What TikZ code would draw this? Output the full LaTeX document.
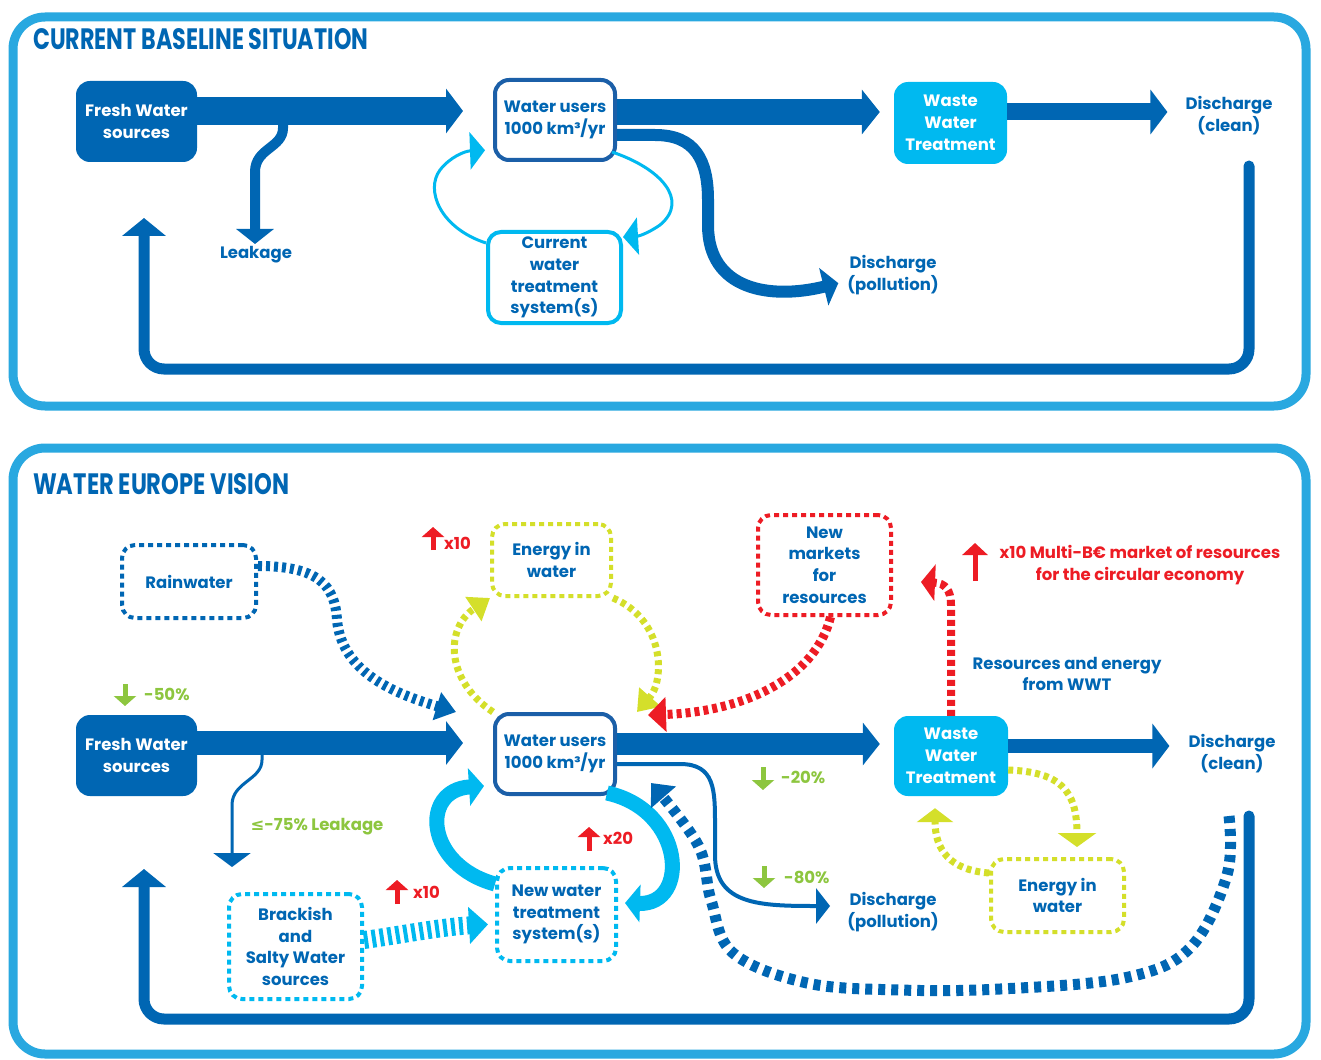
\documentclass[tikz,border=0pt]{standalone}
\usepackage{fontspec}
\usepackage{graphicx}
\setmainfont{Poppins}
\newfontfamily\symfont{DejaVu Sans}
\usetikzlibrary{arrows.meta,calc}
\definecolor{dblue}{RGB}{0,102,179}
\definecolor{bblue}{RGB}{27,95,168}
\definecolor{framec}{RGB}{41,168,224}
\definecolor{cyanw}{RGB}{0,185,240}
\definecolor{ygreen}{RGB}{212,223,42}
\definecolor{wred}{RGB}{237,28,36}
\definecolor{wgreen}{RGB}{141,198,63}
\begin{document}
\begin{tikzpicture}[x=1pt,y=-1pt,
  txt/.style={text=dblue,font=\bfseries\fontsize{16.5}{21.8}\selectfont,align=center,inner sep=0pt},
  solidbox/.style={txt,text=white,rounded corners=14pt},
  userbox/.style={txt,draw=bblue,fill=white,line width=4pt,rounded corners=14pt,minimum width=120pt,minimum height=80pt},
  dotbox/.style={txt,draw=#1,fill=white,line width=4pt,dash pattern=on 5pt off 4pt,rounded corners=13pt},
  bigarrow/.style={dblue,line width=#1},
  icon/.style={line width=5pt,-{Triangle[length=10pt,width=22pt]}},
  small/.style={font=\bfseries\fontsize{16.5}{18}\selectfont,inner sep=0pt}
]
\fill[white] (0,0) rectangle (1321,1059);
\useasboundingbox (0,0) rectangle (1321,1059);
% panels
\draw[framec,line width=9pt,rounded corners=32pt] (13,17) rectangle (1306,406);
\draw[framec,line width=9pt,rounded corners=32pt] (13,448) rectangle (1306,1054);
\node[anchor=south west,inner sep=0pt,text=dblue] (t1) at (33,50) {\resizebox{335pt}{21pt}{\bfseries CURRENT BASELINE SITUATION}};
\node[anchor=south west,inner sep=0pt,text=dblue] (t2) at (33,495) {\resizebox{256pt}{21pt}{\bfseries WATER EUROPE VISION}};

% ================= TOP PANEL =================
\node[solidbox,fill=dblue,minimum width=121pt,minimum height=81pt] (fw1) at (136.5,121.5) {Fresh Water\\sources};
\node[userbox] (wu1) at (555,120) {Water users\\1000 km³/yr};
\node[solidbox,fill=cyanw,minimum width=113pt,minimum height=82pt] (wwt1) at (950.5,123) {Waste\\Water\\Treatment};
\node[txt,draw=cyanw,fill=white,line width=4pt,rounded corners=13pt,minimum width=133pt,minimum height=91pt] (cwt1) at (554.5,277.5) {Current\\water\\treatment\\system(s)};
\node[txt] (leak1) at (256,255) {Leakage};
\node[txt] (dc1) at (1229,116) {Discharge\\(clean)};
\node[txt] (dp1) at (893,275) {Discharge\\(pollution)};
\coordinate (br1) at (283,118);
\coordinate (rl1) at (1249,166);

\draw[bigarrow=28pt,-{Triangle[length=17pt,width=44pt]},shorten >=30pt] (fw1.east |- 0,111) -- (wu1.west |- 0,111);
\draw[bigarrow=26pt,-{Triangle[length=18pt,width=44pt]},shorten >=14pt] (wu1.east |- 0,112) -- (wwt1.west |- 0,112);
\draw[bigarrow=17pt,-{Triangle[length=17pt,width=44pt]},shorten >=18pt] (wwt1.east |- 0,112) -- (dc1.west |- 0,112);
\draw[dblue,line width=10pt,-{Triangle[length=15pt,width=37pt]},shorten >=2pt] (br1) -- (283,128) .. controls (283,148) and (255,148) .. (255,172) -- (255,246);
\draw[dblue,line width=11pt,rounded corners=20pt,line cap=round,-{Triangle[length=18pt,width=43pt]}] (rl1) -- (1249,369) -- (144,369) -- (144,218);
\draw[dblue,line width=12pt,-{Triangle[length=15pt,width=38pt]},shorten >=9pt] (wu1.east |- 0,135) -- (655,135) .. controls (695,135) and (708,160) .. (708,200) -- (708,225) .. controls (708,290) and (770,300) .. (dp1.west |- 0,281);
\draw[cyanw,line width=3pt,-{Triangle[length=15pt,width=37pt]},shorten >=8pt] (cwt1.west |- 0,243) .. controls (440,228) and (425,190) .. (440,170) .. controls (450,157) and (465,151) .. (wu1.west |- 0,150);
\draw[cyanw,line width=3pt,-{Triangle[length=15pt,width=37pt]}] (612,152) .. controls (660,168) and (690,200) .. (660,225) .. controls (650,232) and (640,236) .. (cwt1.east |- 0,237);

% ================= BOTTOM PANEL =================
\node[solidbox,fill=dblue,minimum width=121pt,minimum height=81pt] (fw2) at (136.5,755.5) {Fresh Water\\sources};
\node[userbox] (wu2) at (555,754) {Water users\\1000 km³/yr};
\node[solidbox,fill=cyanw,minimum width=114pt,minimum height=80pt] (wwt2) at (951,756) {Waste\\Water\\Treatment};
\node[dotbox=ygreen,minimum width=119pt,minimum height=72pt] (eiw1) at (551.5,560) {Energy in\\water};
\node[dotbox=dblue,minimum width=134pt,minimum height=73pt] (rain) at (189,581.5) {Rainwater};
\node[dotbox=wred,minimum width=133pt,minimum height=100pt] (nm) at (824.5,565) {New\\markets\\for\\resources};
\node[dotbox=cyanw,minimum width=119pt,minimum height=93pt] (nwt) at (556.5,914.5) {New water\\treatment\\system(s)};
\node[dotbox=cyanw,minimum width=133pt,minimum height=105pt] (brack) at (295.5,946.5) {Brackish\\and\\Salty Water\\sources};
\node[dotbox=ygreen,minimum width=133pt,minimum height=73pt] (eiw2) at (1057.5,895.5) {Energy in\\water};
\node[txt] (dc2) at (1232,754) {Discharge\\(clean)};
\node[txt] (dp2) at (893,912) {Discharge\\(pollution)};
\node[txt] (res) at (1067,674) {Resources and energy\\from WWT};
\node[txt,text=wred] (econ) at (1140,565) {x10 Multi-B€ market of resources\\for the circular economy};
\node[txt,text=wgreen] (leak2) at (317,827) {{\symfont ≤}-75\% Leakage};
\node[small,text=wgreen,anchor=west] (p50) at (144,694) {-50\%};
\node[small,text=wgreen,anchor=west] (p20) at (781,777) {-20\%};
\node[small,text=wgreen,anchor=west] (p80) at (784,877) {-80\%};
\node[small,text=wred,anchor=west] (x10a) at (444,543) {x10};
\node[small,text=wred,anchor=west] (x20) at (603,838) {x20};
\node[small,text=wred,anchor=west] (x10b) at (413,892) {x10};
\coordinate (br2) at (262,750);
\coordinate (lk2) at (232,867);
\coordinate (rl2) at (1249,816);
\coordinate (rl3) at (1229,816);
\coordinate (rl3end) at (651,783);

% small icons
\draw[icon,wgreen] (125,684) -- (125,706);
\draw[icon,wgreen] (763,767) -- (763,790);
\draw[icon,wgreen] (764,866) -- (764,888);
\draw[icon,wred] (433,550) -- (433,527);
\draw[icon,wred] (589,851) -- (589,827);
\draw[icon,wred] (397,904) -- (397,880);
\draw[wred,line width=5pt,-{Triangle[length=12pt,width=25pt]}] (975,581) -- (975,543);

% main flows
\draw[bigarrow=24pt,-{Triangle[length=17pt,width=43pt]},shorten >=30pt] (fw2.east |- 0,743) -- (wu2.west |- 0,743);
\draw[bigarrow=22pt,-{Triangle[length=17pt,width=42pt]},shorten >=14pt] (wu2.east |- 0,744) -- (wwt2.west |- 0,744);
\draw[bigarrow=14pt,-{Triangle[length=17pt,width=44pt]},shorten >=19pt] (wwt2.east |- 0,746) -- (dc2.west |- 0,746);
\draw[dblue,line width=3pt,-{Triangle[length=14pt,width=37pt]}] (br2) -- (262,760) .. controls (262,780) and (232,782) .. (232,805) -- (lk2);
\draw[dblue,line width=11pt,rounded corners=20pt,line cap=round,-{Triangle[length=18pt,width=43pt]}] (rl2) -- (1249,1019) -- (144,1019) -- (144,869);
\draw[dblue,line width=4pt,-{Triangle[length=14pt,width=35pt]},shorten >=17pt] (wu2.east |- 0,764) -- (680,764) .. controls (715,764) and (715,790) .. (715,825) -- (715,855) .. controls (715,905) and (760,906) .. (dp2.west |- 0,906);

% dashed flows
\draw[dblue,line width=10pt,dash pattern=on 4pt off 4pt,-{Triangle[length=20pt,width=28pt]}] (rain.east |- 0,566) .. controls (318,566) and (335,585) .. (337,620) .. controls (342,675) and (400,695) .. ([xshift=-37pt]wu2.north west);
\draw[ygreen,line width=7pt,dash pattern=on 5pt off 4pt,-{Triangle[length=20pt,width=28pt]}] (wu2.north west) .. controls (445,680) and (445,628) .. (eiw1.south west);
\draw[ygreen,line width=7pt,dash pattern=on 5pt off 4pt,-{Triangle[length=20pt,width=28pt]}] (eiw1.south east) .. controls (665,620) and (665,680) .. ([xshift=20pt]wu2.north east);
\draw[wred,line width=9pt,dash pattern=on 5pt off 4pt,-{Triangle[length=18pt,width=34pt]}] ([xshift=6pt]nm.south) .. controls (815,680) and (740,712) .. ([xshift=31pt,yshift=-3pt]wu2.north east);
\draw[wred,line width=8pt,dash pattern=on 6pt off 4pt,-{Triangle[length=14pt,width=36pt]}] (wwt2.north) -- (951,605) .. controls (951,590) and (945,583) .. (921,582);
\draw[ygreen,line width=7pt,dash pattern=on 5pt off 4pt,-{Triangle[length=14pt,width=38pt]}] (wwt2.east |- 0,770) .. controls (1060,772) and (1077,790) .. ([xshift=19.5pt,yshift=10pt]eiw2.north);
\draw[ygreen,line width=7pt,dash pattern=on 5pt off 4pt,-{Triangle[length=14pt,width=36pt]}] (eiw2.west |- 0,873) .. controls (950,870) and (935,850) .. ([xshift=-16pt,yshift=-12pt]wwt2.south);
\draw[cyanw,line width=15pt,-{Triangle[length=15pt,width=37pt]}] (nwt.north west |- 0,884) .. controls (425,865) and (420,790) .. ([xshift=-9pt]wu2.west |- 0,786);
\draw[cyanw,line width=15pt,-{Triangle[length=15pt,width=37pt]}] (607,793) .. controls (685,810) and (690,905) .. ([xshift=7pt]nwt.east |- 0,903);
\draw[cyanw,line width=18pt,dash pattern=on 4pt off 4pt,-{Triangle[length=19pt,width=36pt]},shorten >=7pt] (brack.east |- 0,940) .. controls (400,935) and (440,927) .. (nwt.west |- 0,924);
\draw[dblue,line width=11pt,dash pattern=on 7pt off 6pt,-{Triangle[length=19pt,width=32pt]}] plot[smooth,tension=0.6] coordinates {(rl3) (1227,875) (1190,948) (1124,978) (1000,989) (900,990) (807,983) (733,953) (711,900) (698,845) (rl3end)};
\end{tikzpicture}
\end{document}
